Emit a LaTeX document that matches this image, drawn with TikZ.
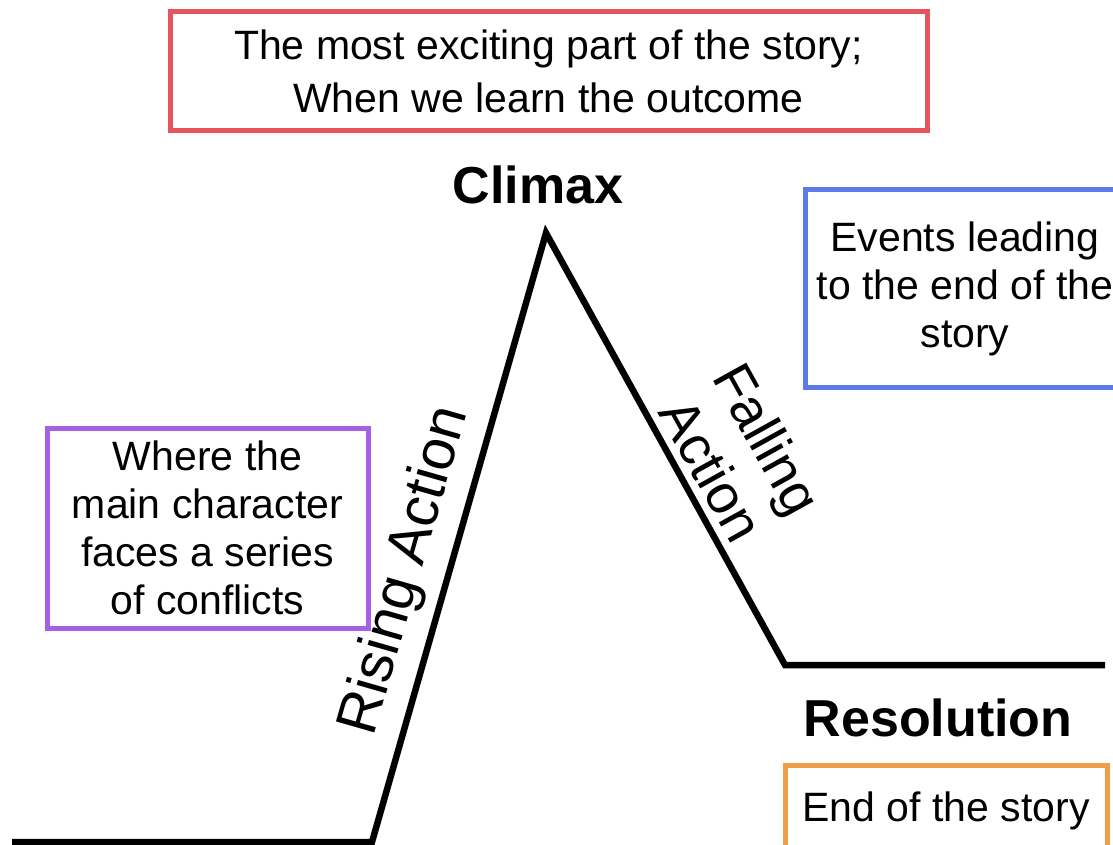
\documentclass[tikz,border=0pt]{standalone}
\usepackage{fontspec}
\setmainfont{Liberation Sans}
\begin{document}
\begin{tikzpicture}[x=1pt,y=-1pt,
  infobox/.style={draw, line width=5pt, align=center, inner sep=0pt,
    font=\fontsize{41}{48}\selectfont},
  phase/.style={font=\fontsize{52}{60}\selectfont\bfseries},
  sidelabel/.style={font=\fontsize{55}{64}\selectfont, align=center, inner sep=0pt},
  plot/.style={line width=6.5pt, line join=miter, black}]
\useasboundingbox (0,0) rectangle (1113,845);
\clip (0,0) rectangle (1113,845);
\definecolor{boxred}{RGB}{232,84,94}
\definecolor{boxblue}{RGB}{92,122,232}
\definecolor{boxpurple}{RGB}{166,96,226}
\definecolor{boxorange}{RGB}{240,158,72}

% plot line
\coordinate (start) at (12,842);
\coordinate (rise) at (372,842);
\coordinate (peak) at (546,233);
\coordinate (fall) at (785,665);
\coordinate (finish) at (1105,665);
\draw[plot] (start) -- (rise) -- (peak) -- (fall) -- (finish);

% boxes
\node[infobox, draw=boxred, minimum width=757pt, minimum height=119pt,
  font=\fontsize{41}{53}\selectfont] (climaxbox) at (548.5,71.5)
  {\rule{0pt}{8pt}The most exciting part of the story;\\When we learn the outcome};
\node[infobox, draw=boxblue, minimum width=320pt, minimum height=197pt] (fallbox) at (965,288.5)
  {Events leading\\to the end of the\\story};
\node[infobox, draw=boxpurple, minimum width=321pt, minimum height=200pt] (risebox) at (207.5,528)
  {Where the\\main character\\faces a series\\of conflicts};
\node[infobox, draw=boxorange, minimum width=322pt, minimum height=92pt] (resbox) at (946,811)
  {End of the story};

% phase titles
\node[phase] (climax) at (538,185) {Climax};
\node[phase] (resolution) at (938,718) {Resolution};

% rotated labels
\node[sidelabel, font=\fontsize{58}{64}\selectfont, rotate=74] (risinglbl) at (406,571) {Rising\ Action};
\node[sidelabel, rotate=-61] (fallinglbl) at (740,454) {Falling\\Action};
\end{tikzpicture}
\end{document}
